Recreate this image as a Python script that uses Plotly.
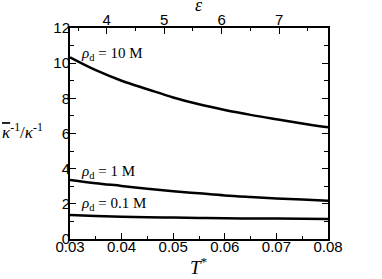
import plotly.graph_objects as go

T = [0.03, 0.035, 0.04, 0.045, 0.05, 0.055, 0.06, 0.065, 0.07, 0.075, 0.08]
rho_10M = [10.33, 9.6, 9.0, 8.52, 8.05, 7.66, 7.34, 7.06, 6.81, 6.57, 6.35]
rho_1M = [3.36, 3.17, 3.02, 2.86, 2.72, 2.6, 2.48, 2.39, 2.31, 2.24, 2.18]
rho_01M = [1.36, 1.31, 1.27, 1.24, 1.22, 1.2, 1.18, 1.17, 1.16, 1.15, 1.14]

labels = ["10 M", "1 M", "0.1 M"]
label_y = [10.5, 3.8, 1.98]
eps_range = [3.36, 7.85]

SERIF = "Liberation Serif, Times New Roman, serif"
SANS = "Liberation Sans, Arial, sans-serif"

fig = go.Figure()
for ys in (rho_10M, rho_1M, rho_01M):
    fig.add_trace(go.Scatter(x=T, y=ys, mode="lines", line=dict(color="black", width=2.5, shape="spline"),
                             showlegend=False, hoverinfo="skip"))
# empty trace so the top epsilon axis is drawn
fig.add_trace(go.Scatter(x=eps_range, y=[None, None], xaxis="x2", yaxis="y", mode="lines",
                         showlegend=False, hoverinfo="skip"))

axis_common = dict(showgrid=False, zeroline=False, showline=True, linecolor="black", linewidth=2,
                   ticks="inside", tickcolor="black", tickwidth=1.2,
                   tickfont=dict(family=SANS, size=15, color="black"))

fig.update_layout(
    width=382, height=279,
    margin=dict(l=70, r=54, t=28, b=40, autoexpand=False),
    paper_bgcolor="white", plot_bgcolor="white",
    xaxis=dict(range=[0.03, 0.08], dtick=0.01, tick0=0.03, tickformat=".2f", ticklen=6, ticklabelstandoff=-7,
               minor=dict(dtick=0.005, tick0=0.03, ticks="inside", ticklen=3, tickcolor="black"), **axis_common),
    xaxis2=dict(range=eps_range, overlaying="x", side="top", anchor="y", dtick=1, tick0=4, ticklen=6,
                ticklabelstandoff=-5,
                minor=dict(dtick=0.5, tick0=3.5, ticks="inside", ticklen=3, tickcolor="black"), **axis_common),
    yaxis=dict(range=[0, 12], dtick=2, tick0=0, ticklen=6, ticklabelstandoff=-5, mirror="ticks",
               minor=dict(dtick=1, tick0=0, ticks="inside", ticklen=4, tickcolor="black"), **axis_common),
)

for lab, ly in zip(labels, label_y):
    fig.add_annotation(x=0.0318, y=ly, xref="x", yref="y", xanchor="left", yanchor="middle",
                       text="<i>ρ</i><sub>d</sub> = " + lab, showarrow=False,
                       font=dict(family=SERIF, size=15, color="black"))

fig.add_annotation(x=0, y=0.51, xref="paper", yref="paper", xanchor="left", yanchor="middle",
                   text="<span style=\"text-decoration:overline\"><i>κ</i></span><sup>-1</sup>/<i>κ</i><sup>-1</sup>",
                   showarrow=False, xshift=-70,
                   font=dict(family=SERIF, size=17, color="black"))
fig.add_annotation(x=0.5, y=1, xref="paper", yref="paper", xanchor="center", yanchor="bottom",
                   text="<i>ε</i>", showarrow=False, yshift=11,
                   font=dict(family=SERIF, size=18, color="black"))
fig.add_annotation(x=0.5, y=0, xref="paper", yref="paper", xanchor="center", yanchor="top",
                   text="<i>T</i><sup>*</sup>", showarrow=False, yshift=-13,
                   font=dict(family=SERIF, size=19, color="black"))

fig.write_html("out.html", config={"displayModeBar": False},
               post_script="document.body.style.margin='0';document.body.style.overflow='hidden';")
